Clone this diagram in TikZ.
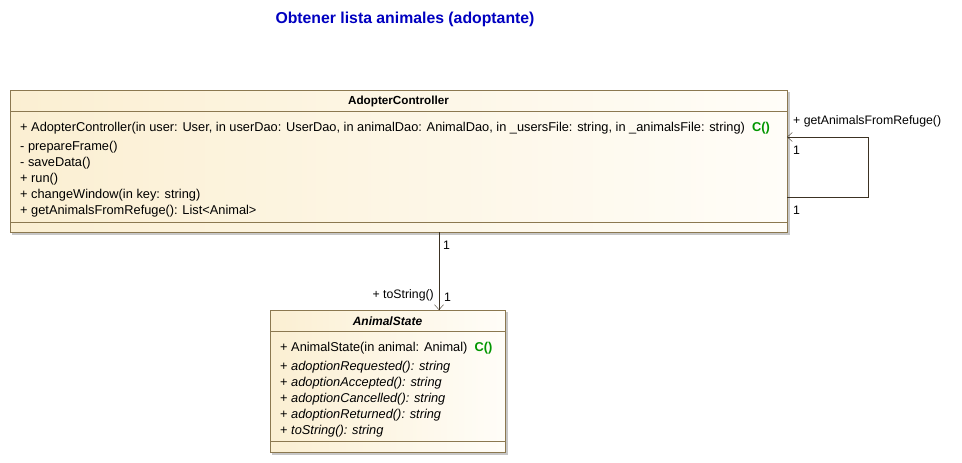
\documentclass[tikz,border=0pt]{standalone}
\usepackage{fontspec}
\setmainfont{Liberation Sans}
\usetikzlibrary{arrows.meta,positioning,calc}

\definecolor{umlborder}{RGB}{139,120,80}
\definecolor{umlfillL}{RGB}{251,239,210}
\definecolor{umlfillR}{RGB}{255,253,248}
\definecolor{umlline}{RGB}{60,50,35}
\definecolor{titleblue}{RGB}{0,0,192}
\definecolor{ctorgreen}{RGB}{0,150,0}

\tikzset{
  classbox/.style={draw=umlborder,left color=umlfillL,right color=umlfillR,
    rectangle,inner sep=0pt,outer sep=0pt},
  boxshadow/.style={fill=black!22,draw=none},
  member/.style={anchor=west,inner sep=0pt,font=\fontsize{12.8}{15}\selectfont},
  classname/.style={inner sep=0pt,font=\fontsize{11.7}{14}\selectfont\bfseries},
  mult/.style={inner sep=0pt,font=\fontsize{12.3}{14}\selectfont},
  assoc/.style={draw=umlline,-{Straight Barb[length=5pt,width=9pt]}},
}
\newcommand{\ctor}{\textcolor{ctorgreen}{\textbf{C()}}}

\begin{document}
\begin{tikzpicture}[x=1pt,y=-1pt]
  \useasboundingbox (0,0) rectangle (962,463);

  % title
  \node[font=\fontsize{15.8}{18}\selectfont\bfseries,text=titleblue] (title) at (405,19)
    {Obtener lista animales (adoptante)};

  % shadows
  \fill[boxshadow] (12,92) rectangle (790,235);
  \fill[boxshadow] (272,312) rectangle (508,455);

  % AdopterController
  \node[classbox,minimum width=777pt,minimum height=142pt] (ctrl) at (398.5,161) {};
  \draw[umlborder] (10,111) -- (787,111);
  \draw[umlborder] (10,222) -- (787,222);
  \node[classname] (ctrlname) at (398.5,101) {AdopterController};
  \begin{scope}[every node/.style={member}]
    \node (c1) at (20,128) {+ AdopterController(in user: User, in userDao: UserDao, in animalDao: AnimalDao, in \_usersFile: string, in \_animalsFile: string)\ \ \ctor};
    \node (c2) at (20,147) {- prepareFrame()};
    \node (c3) at (20,163) {- saveData()};
    \node (c4) at (20,179) {+ run()};
    \node (c5) at (20,195) {+ changeWindow(in key: string)};
    \node (c6) at (20,211) {+ getAnimalsFromRefuge(): List<Animal>};
  \end{scope}

  % AnimalState
  \node[classbox,minimum width=235pt,minimum height=142pt] (state) at (387.5,381) {};
  \draw[umlborder] (270,331) -- (505,331);
  \draw[umlborder] (270,441) -- (505,441);
  \node[classname,font=\fontsize{12}{14}\selectfont\bfseries\itshape] (statename) at (387.5,321) {AnimalState};
  \begin{scope}[every node/.style={member}]
    \node (s1) at (280,348) {+ AnimalState(in animal: Animal)\ \ \ctor};
    \node (s2) at (280,367) {+ \textit{adoptionRequested(): string}};
    \node (s3) at (280,383) {+ \textit{adoptionAccepted(): string}};
    \node (s4) at (280,399) {+ \textit{adoptionCancelled(): string}};
    \node (s5) at (280,415) {+ \textit{adoptionReturned(): string}};
    \node (s6) at (280,431) {+ \textit{toString(): string}};
  \end{scope}

  % self association
  \draw[assoc] ([yshift=-36pt]ctrl.east) -- ++(81,0) |- ([yshift=24pt]ctrl.east);
  \node[mult,anchor=west] (selfop) at (793,121) {+ getAnimalsFromRefuge()};
  \node[mult,anchor=west] (selfm1) at (793,150) {1};
  \node[mult,anchor=west] (selfm2) at (793,210) {1};

  % association to AnimalState
  \coordinate (link) at (439,0);
  \draw[assoc] (ctrl.south -| link) -- (state.north -| link);
  \node[mult,anchor=west] (linkm1) at (443,245) {1};
  \node[mult,anchor=west] (linkm2) at (444,297) {1};
  \node[mult,anchor=east] (linkop) at (434,295) {+ toString()};
\end{tikzpicture}
\end{document}
